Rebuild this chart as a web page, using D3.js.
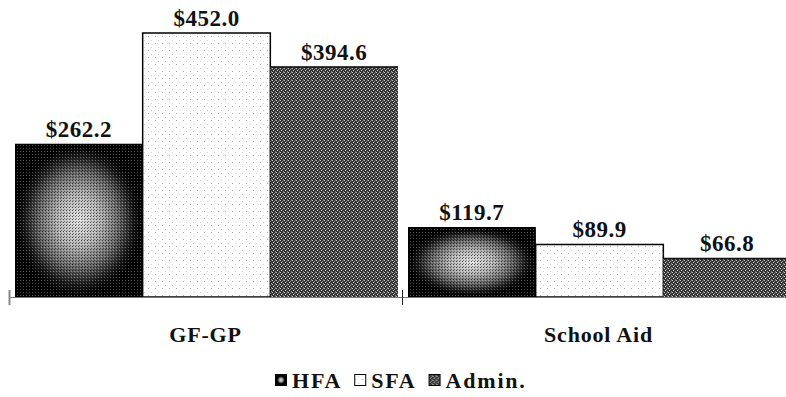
<!DOCTYPE html>
<html>
<head>
<meta charset="utf-8">
<script src="https://cdn.jsdelivr.net/npm/d3@7/dist/d3.min.js"></script>
<style>
  html, body { margin: 0; padding: 0; background: #fff; }
  svg { display: block; }
  text { font-family: "Liberation Serif", "Times New Roman", serif; font-weight: bold; fill: #111; }
</style>
</head>
<body>
<svg id="chart" width="786" height="397"></svg>
<script>
// Appropriations by fund source (millions)
const categories = ["GF-GP", "School Aid"];
const series = ["HFA", "SFA", "Admin."];
const hfaValues = [262.2, 119.7];
const sfaValues = [452.0, 89.9];
const adminValues = [394.6, 66.8];
const legendLabels = ["HFA", "SFA", "Admin."];

const valuesBySeries = { "HFA": hfaValues, "SFA": sfaValues, "Admin.": adminValues };

const svg = d3.select("#chart");
const defs = svg.append("defs");

// --- fills -------------------------------------------------------------
// HFA: black frame with a soft light-grey glow in the middle
const rg = defs.append("radialGradient")
  .attr("id", "hfaGlow").attr("cx", "0.5").attr("cy", "0.5").attr("r", "0.56");
[[0, "#e2e2e2"], [0.3, "#b4b4b4"], [0.55, "#6a6a6a"], [0.75, "#1c1c1c"], [0.88, "#000"], [1, "#000"]]
  .forEach(([o, c]) => rg.append("stop").attr("offset", o).attr("stop-color", c));

const hfaGrain = defs.append("pattern")
  .attr("id", "hfaGrain").attr("width", 3).attr("height", 3)
  .attr("patternUnits", "userSpaceOnUse");
hfaGrain.append("rect").attr("width", 1).attr("height", 1).attr("fill", "#000").attr("opacity", 0.6);
hfaGrain.append("rect").attr("x", 1).attr("y", 2).attr("width", 1).attr("height", 1).attr("fill", "#000").attr("opacity", 0.4);
hfaGrain.append("rect").attr("x", 2).attr("y", 1).attr("width", 1).attr("height", 1).attr("fill", "#fff").attr("opacity", 0.3);

// SFA: white with a faint sparse stipple
const sfaDots = defs.append("pattern")
  .attr("id", "sfaDots").attr("width", 7).attr("height", 7)
  .attr("patternUnits", "userSpaceOnUse");
sfaDots.append("rect").attr("width", 7).attr("height", 7).attr("fill", "#fff");
sfaDots.append("rect").attr("x", 1).attr("y", 1).attr("width", 1).attr("height", 1).attr("fill", "#a8a8a8");
sfaDots.append("rect").attr("x", 4).attr("y", 5).attr("width", 1).attr("height", 1).attr("fill", "#cfcfcf");

// Admin.: dense dark-grey dither
const adminDots = defs.append("pattern")
  .attr("id", "adminDots").attr("width", 4).attr("height", 4)
  .attr("patternUnits", "userSpaceOnUse");
adminDots.append("rect").attr("width", 4).attr("height", 4).attr("fill", "#333");
[[0, 0, "#c4c4c4"], [2, 1, "#a0a0a0"], [1, 2, "#cfcfcf"], [3, 3, "#909090"], [3, 0, "#666"]]
  .forEach(([x, y, c]) => adminDots.append("rect").attr("x", x).attr("y", y)
    .attr("width", 1).attr("height", 1).attr("fill", c));

// --- scales ------------------------------------------------------------
const baseY = 297;
const x0 = d3.scaleBand().domain(categories).range([9, 795]);
const x1 = d3.scaleBand().domain(series).range([6, x0.bandwidth() - 4]);
const y = d3.scaleLinear().domain([0, 452]).range([baseY, 33]);

const rows = [];
categories.forEach((c, i) => series.forEach(s => rows.push({ cat: c, ser: s, v: valuesBySeries[s][i] })));

// --- bars --------------------------------------------------------------
const bars = svg.append("g");
rows.forEach(d => {
  const bx = x0(d.cat) + x1(d.ser), bw = x1.bandwidth(), by = y(d.v), bh = baseY - y(d.v);
  const g = bars.append("g");
  if (d.ser === "HFA") {
    g.append("rect").attr("x", bx).attr("y", by).attr("width", bw).attr("height", bh).attr("fill", "#000");
    g.append("rect").attr("x", bx).attr("y", by).attr("width", bw).attr("height", bh).attr("fill", "url(#hfaGlow)");
    g.append("rect").attr("x", bx).attr("y", by).attr("width", bw).attr("height", bh).attr("fill", "url(#hfaGrain)");
  } else if (d.ser === "SFA") {
    g.append("rect").attr("x", bx).attr("y", by).attr("width", bw).attr("height", bh)
      .attr("fill", "url(#sfaDots)").attr("stroke", "#000").attr("stroke-width", 1.5);
  } else {
    g.append("rect").attr("x", bx).attr("y", by).attr("width", bw).attr("height", bh).attr("fill", "url(#adminDots)");
    g.append("line").attr("x1", bx).attr("x2", bx + bw).attr("y1", by + 0.5).attr("y2", by + 0.5)
      .attr("stroke", "#111").attr("stroke-width", 1.5);
  }
});

// value labels
svg.append("g").selectAll("text").data(rows).join("text")
  .attr("x", d => x0(d.cat) + x1(d.ser) + x1.bandwidth() / 2)
  .attr("y", d => y(d.v) - 7)
  .attr("text-anchor", "middle")
  .attr("font-size", 23)
  .attr("letter-spacing", 0.5)
  .text(d => "$" + d3.format(".1f")(d.v));

// --- axis --------------------------------------------------------------
const axis = svg.append("g");
axis.append("line").attr("x1", x0.range()[0]).attr("x2", 786).attr("y1", baseY + 0.5).attr("y2", baseY + 0.5)
  .attr("stroke", "#777").attr("stroke-width", 1);
categories.forEach((c, i) => {
  axis.append("line").attr("x1", x0(c) + 0.5).attr("x2", x0(c) + 0.5).attr("y1", 290).attr("y2", 305)
    .attr("stroke", i === 0 ? "#888" : "#222").attr("stroke-width", i === 0 ? 2 : 1);
});
axis.selectAll("text").data(categories).join("text")
  .attr("x", d => x0(d) + x0.bandwidth() / 2)
  .attr("y", 342)
  .attr("text-anchor", "middle")
  .attr("font-size", 22)
  .attr("letter-spacing", 0.8)
  .text(d => d);

// --- legend ------------------------------------------------------------
const legendFills = { "HFA": "hfa", "SFA": "url(#sfaDots)", "Admin.": "url(#adminDots)" };
const legend = svg.append("g");
let lx = 0;
legendLabels.forEach(name => {
  const item = legend.append("g").attr("transform", `translate(${lx},0)`);
  if (name === "HFA") {
    item.append("rect").attr("x", 0).attr("y", 374).attr("width", 12).attr("height", 12).attr("fill", "#000");
    item.append("rect").attr("x", 2).attr("y", 376).attr("width", 8).attr("height", 8).attr("fill", "url(#hfaGlow)");
  } else {
    item.append("rect").attr("x", 0.5).attr("y", 374.5).attr("width", 11).attr("height", 11)
      .attr("fill", legendFills[name]).attr("stroke", "#000").attr("stroke-width", 1);
  }
  const t = item.append("text").attr("x", 17).attr("y", 388)
    .attr("font-size", 22).attr("letter-spacing", 1.8).text(name);
  lx += 17 + t.node().getComputedTextLength() + 12;
});
const legendW = lx - 12;
legend.attr("transform", `translate(${Math.round(401 - legendW / 2)},0)`);
</script>
</body>
</html>
